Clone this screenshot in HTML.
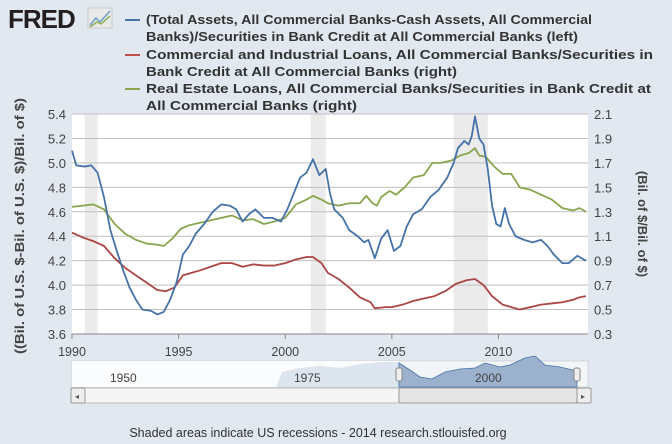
<!DOCTYPE html>
<html><head><meta charset="utf-8"><style>
body{margin:0;width:672px;height:444px;background:#e1e8f0;font-family:"Liberation Sans",sans-serif;overflow:hidden}
svg{display:block}
</style></head><body>
<svg width="672" height="444">
<g>
<text x="8" y="28" font-size="26" font-weight="bold" fill="#231f20" letter-spacing="-1">FRED</text>
<rect x="88" y="8" width="24" height="20" fill="#e8e8e8" stroke="#ccc"/>
<polyline points="90,25 96,18 100,22 110,11" fill="none" stroke="#6fa0c8" stroke-width="1.5"/>
<polyline points="90,27 97,22 101,24 110,16" fill="none" stroke="#8db04a" stroke-width="1.5"/>
</g>
<g font-size="13" font-weight="bold" fill="#333">
<g><line x1="125" y1="20" x2="140" y2="20" stroke="#4572a7" stroke-width="2"/><text x="146" y="24" textLength="446" lengthAdjust="spacingAndGlyphs">(Total Assets, All Commercial Banks-Cash Assets, All Commercial</text><text x="146" y="41" textLength="432" lengthAdjust="spacingAndGlyphs">Banks)/Securities in Bank Credit at All Commercial Banks (left)</text></g>
<g><line x1="125" y1="55" x2="140" y2="55" stroke="#c0504d" stroke-width="2"/><text x="146" y="59" textLength="507" lengthAdjust="spacingAndGlyphs">Commercial and Industrial Loans, All Commercial Banks/Securities in</text><text x="146" y="76" textLength="311" lengthAdjust="spacingAndGlyphs">Bank Credit at All Commercial Banks (right)</text></g>
<g><line x1="125" y1="89" x2="140" y2="89" stroke="#89a54e" stroke-width="2"/><text x="146" y="93" textLength="505" lengthAdjust="spacingAndGlyphs">Real Estate Loans, All Commercial Banks/Securities in Bank Credit at</text><text x="146" y="110" textLength="211" lengthAdjust="spacingAndGlyphs">All Commercial Banks (right)</text></g>
</g>
<rect x="72" y="114" width="516" height="220" fill="#fff"/>
<g id="rec"></g><g id="grid"></g><g id="axes"></g><g id="series"></g>
<text transform="translate(24,226) rotate(-90)" text-anchor="middle" font-size="13" font-weight="bold" fill="#444" textLength="256" lengthAdjust="spacingAndGlyphs">((Bil. of U.S. $-Bil. of U.S. $)/Bil. of $)</text>
<text transform="translate(638,224) rotate(90)" text-anchor="middle" font-size="13" font-weight="bold" fill="#444">(Bil. of $/Bil. of $)</text>
<g>
<rect x="72" y="361" width="516" height="26" fill="#f3f6f9" stroke="#bbb" stroke-width="0.5"/>
<rect x="72" y="361" width="327" height="26" fill="#fbfcfd"/>
<path d="M276,387 L282,372 300,368 320,366 340,368 360,364 380,362 399,362 399,387Z" fill="#dde5ee"/>
<path d="M399,387 L399,363 410,370 420,377 432,379 445,372 460,369 475,368 485,363 500,367 510,365 525,358 535,356 545,365 560,367 577,371 577,387Z" fill="#9bb1cd" stroke="#4572a7" stroke-width="0.8"/>
<text x="110" y="382" font-size="12" fill="#444">1950</text><text x="294" y="382" font-size="12" fill="#444">1975</text><text x="475" y="382" font-size="12" fill="#444">2000</text>
<rect x="396" y="368" width="6" height="13" rx="2" fill="#eee" stroke="#888"/>
<rect x="574" y="368" width="6" height="13" rx="2" fill="#eee" stroke="#888"/>
<rect x="71" y="388" width="520" height="15" fill="#f5f5f5" stroke="#bbb"/>
<rect x="71" y="388" width="14" height="15" fill="#eee" stroke="#999" rx="2"/><text x="75" y="399" font-size="8" fill="#555">◂</text>
<rect x="399" y="388" width="178" height="15" fill="#e6e6e6" stroke="#999" rx="2"/>
<rect x="577" y="388" width="14" height="15" fill="#eee" stroke="#999" rx="2"/><text x="581" y="399" font-size="8" fill="#555">▸</text>
</g>
<text x="318" y="437" text-anchor="middle" font-size="12.5" fill="#333">Shaded areas indicate US recessions - 2014 research.stlouisfed.org</text>
</svg>
<script>
const recessions=[[1990.6,1991.2],[2001.2,2001.9],[2007.9,2009.5]];
const xTicks=[1990,1995,2000,2005,2010];
const leftTicks=["3.6","3.8","4.0","4.2","4.4","4.6","4.8","5.0","5.2","5.4"];
const rightTicks=["0.3","0.5","0.7","0.9","1.1","1.3","1.5","1.7","1.9","2.1"];
const blueData=[[1990.0,5.10],[1990.2,4.98],[1990.6,4.97],[1990.9,4.98],[1991.2,4.92],[1991.5,4.72],[1991.8,4.45],[1992.1,4.28],[1992.4,4.12],[1992.7,3.98],[1993.0,3.88],[1993.3,3.80],[1993.7,3.79],[1994.0,3.76],[1994.3,3.78],[1994.6,3.88],[1994.9,4.02],[1995.2,4.25],[1995.5,4.32],[1995.8,4.42],[1996.2,4.50],[1996.6,4.60],[1997.0,4.66],[1997.4,4.65],[1997.7,4.62],[1998.0,4.52],[1998.3,4.58],[1998.6,4.62],[1999.0,4.55],[1999.4,4.55],[1999.8,4.52],[2000.1,4.62],[2000.4,4.75],[2000.7,4.88],[2001.0,4.92],[2001.3,5.03],[2001.6,4.90],[2001.9,4.95],[2002.1,4.75],[2002.3,4.62],[2002.7,4.55],[2003.0,4.45],[2003.4,4.40],[2003.7,4.35],[2003.9,4.37],[2004.2,4.22],[2004.5,4.38],[2004.8,4.45],[2005.1,4.28],[2005.4,4.32],[2005.7,4.48],[2006.0,4.58],[2006.4,4.62],[2006.8,4.72],[2007.2,4.78],[2007.6,4.88],[2007.9,5.00],[2008.1,5.12],[2008.4,5.18],[2008.6,5.15],[2008.75,5.22],[2008.9,5.38],[2009.1,5.20],[2009.3,5.15],[2009.5,4.95],[2009.7,4.65],[2009.9,4.50],[2010.1,4.48],[2010.3,4.63],[2010.5,4.50],[2010.8,4.40],[2011.2,4.37],[2011.6,4.35],[2012.0,4.37],[2012.3,4.32],[2012.6,4.25],[2013.0,4.18],[2013.3,4.18],[2013.7,4.24],[2014.1,4.20]];
const greenData=[[1990,1.34],[1991.0,1.36],[1991.5,1.32],[1992.0,1.20],[1992.5,1.12],[1993.0,1.07],[1993.5,1.04],[1994.0,1.03],[1994.3,1.02],[1994.7,1.08],[1995.1,1.16],[1995.5,1.19],[1996.0,1.21],[1996.5,1.23],[1997.0,1.25],[1997.5,1.27],[1998.0,1.23],[1998.5,1.24],[1999.0,1.20],[1999.5,1.22],[2000.0,1.25],[2000.5,1.36],[2001.0,1.40],[2001.3,1.43],[2001.7,1.40],[2002.0,1.37],[2002.5,1.35],[2003.0,1.37],[2003.5,1.37],[2003.8,1.43],[2004.1,1.37],[2004.3,1.35],[2004.5,1.42],[2004.9,1.47],[2005.2,1.44],[2005.6,1.50],[2006.0,1.58],[2006.5,1.60],[2006.9,1.70],[2007.3,1.70],[2007.8,1.72],[2008.2,1.76],[2008.6,1.78],[2008.9,1.82],[2009.1,1.76],[2009.4,1.75],[2009.8,1.67],[2010.2,1.61],[2010.6,1.61],[2011.0,1.50],[2011.5,1.48],[2012.0,1.44],[2012.5,1.40],[2013.0,1.33],[2013.5,1.31],[2013.8,1.33],[2014.1,1.30]];
const redData=[[1990,1.13],[1990.5,1.09],[1991.0,1.06],[1991.5,1.02],[1992.0,0.92],[1992.5,0.84],[1993.0,0.78],[1993.5,0.72],[1994.0,0.66],[1994.4,0.65],[1994.8,0.68],[1995.2,0.78],[1995.6,0.80],[1996.0,0.82],[1996.5,0.85],[1997.0,0.88],[1997.5,0.88],[1998.0,0.85],[1998.5,0.87],[1999.0,0.86],[1999.5,0.86],[2000.0,0.88],[2000.5,0.91],[2001.0,0.93],[2001.3,0.93],[2001.7,0.88],[2002.0,0.80],[2002.5,0.75],[2003.0,0.68],[2003.5,0.60],[2004.0,0.56],[2004.2,0.51],[2004.7,0.52],[2005.0,0.52],[2005.5,0.54],[2006.0,0.57],[2006.5,0.59],[2007.0,0.61],[2007.5,0.65],[2008.0,0.71],[2008.5,0.74],[2008.9,0.75],[2009.3,0.70],[2009.7,0.61],[2010.2,0.54],[2010.6,0.52],[2011.0,0.50],[2011.5,0.52],[2012.0,0.54],[2012.5,0.55],[2013.0,0.56],[2013.5,0.58],[2013.8,0.60],[2014.1,0.61]];
const NS="http://www.w3.org/2000/svg";
const X0=72,X1=588,Y0=114,Y1=334;
function xs(t){return X0+(t-1990)/(2014.2-1990)*(X1-X0);}
function yl(v){return Y1-(v-3.6)/(5.4-3.6)*(Y1-Y0);}
function yr(v){return Y1-(v-0.3)/(2.1-0.3)*(Y1-Y0);}
function mk(tag,attrs,parent){const e=document.createElementNS(NS,tag);for(const k in attrs)e.setAttribute(k,attrs[k]);parent.appendChild(e);return e;}
const rec=document.getElementById('rec'),grid=document.getElementById('grid'),axes=document.getElementById('axes'),ser=document.getElementById('series');
recessions.forEach(r=>{const e=mk('rect',{x:xs(r[0]),y:Y0,width:xs(r[1])-xs(r[0]),height:Y1-Y0,fill:'#ebebeb'},rec);

});
leftTicks.forEach((t,i)=>{const y=yl(+t);
const g=mk('line',{x1:X0,x2:X1,y1:y,y2:y,stroke:'#c0c0c0','stroke-width':1},grid);


const a=mk('text',{x:X0-6,y:y+5,'text-anchor':'end','font-size':13,fill:'#444'},axes);a.textContent=t;


const b=mk('text',{x:X1+6,y:yr(+rightTicks[i])+5,'font-size':13,fill:'#444'},axes);b.textContent=rightTicks[i];

});
mk('line',{x1:X0,x2:X1,y1:Y1,y2:Y1,stroke:'#888'},axes);
xTicks.forEach(t=>{const x=xs(t);mk('line',{x1:x,x2:x,y1:Y1,y2:Y1+5,stroke:'#888'},axes);
const b=mk('text',{x:x,y:356,'text-anchor':'middle','font-size':12.5,fill:'#444'},axes);b.textContent=t;

});
function line(data,fy,color,name){const p=mk('polyline',{points:data.map(d=>xs(d[0])+','+fy(d[1])).join(' '),fill:'none',stroke:color,'stroke-width':1.8,'stroke-linejoin':'round'},ser);

}
line(greenData,yr,'#89a54e','real-estate-loans-line');
line(redData,yr,'#aa4643','ci-loans-line');
line(blueData,yl,'#4572a7','total-assets-line');
</script>
</body></html>
